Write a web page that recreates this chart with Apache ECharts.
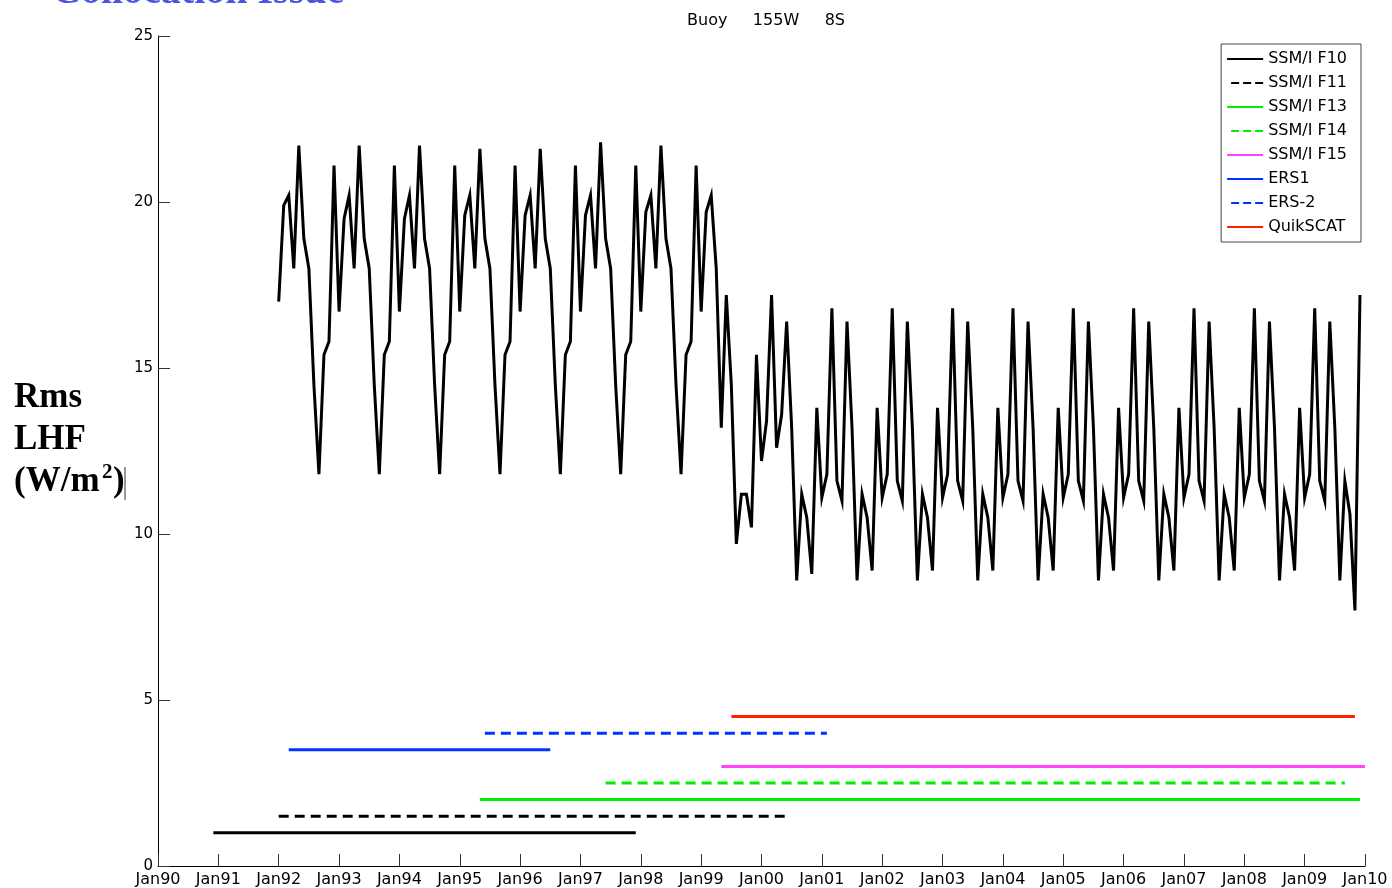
<!DOCTYPE html>
<html>
<head>
<meta charset="utf-8">
<script src="https://cdn.jsdelivr.net/npm/echarts@6/dist/echarts.min.js"></script>
<style>
  html, body { margin: 0; padding: 0; background: #ffffff; }
  #chart { width: 1392px; height: 888px; }
</style>
</head>
<body>
<div id="chart"></div>
<script>
// Monthly RMS latent heat flux difference at the buoy, W/m^2, starting Jan 1992
const rmsStartMonth = '1992-01';
const rmsLhf1992to1999 = [
  17.0, 19.9, 20.2, 18.0, 21.7, 18.9, 18.0, 14.5, 11.8, 15.4, 15.8, 21.1,
  16.7, 19.5, 20.2, 18.0, 21.7, 18.9, 18.0, 14.5, 11.8, 15.4, 15.8, 21.1,
  16.7, 19.5, 20.2, 18.0, 21.7, 18.9, 18.0, 14.5, 11.8, 15.4, 15.8, 21.1,
  16.7, 19.6, 20.2, 18.0, 21.6, 18.9, 18.0, 14.5, 11.8, 15.4, 15.8, 21.1,
  16.7, 19.6, 20.2, 18.0, 21.6, 18.9, 18.0, 14.5, 11.8, 15.4, 15.8, 21.1,
  16.7, 19.6, 20.2, 18.0, 21.8, 18.9, 18.0, 14.5, 11.8, 15.4, 15.8, 21.1,
  16.7, 19.7, 20.2, 18.0, 21.7, 18.9, 18.0, 14.5, 11.8, 15.4, 15.8, 21.1,
  16.7, 19.7, 20.2, 18.0, 13.2, 17.2, 14.5, 9.7, 11.2, 11.2, 10.2, 15.4
];
const rmsLhf2000to2009 = [
  12.2, 13.4, 17.2, 12.6, 13.6, 16.4, 13.2, 8.6, 11.2, 10.5, 8.8, 13.8,
  11.1, 11.8, 16.8, 11.6, 11.0, 16.4, 13.2, 8.6, 11.2, 10.5, 8.9, 13.8,
  11.1, 11.8, 16.8, 11.6, 11.0, 16.4, 13.2, 8.6, 11.2, 10.5, 8.9, 13.8,
  11.1, 11.8, 16.8, 11.6, 11.0, 16.4, 13.2, 8.6, 11.2, 10.5, 8.9, 13.8,
  11.1, 11.8, 16.8, 11.6, 11.0, 16.4, 13.2, 8.6, 11.2, 10.5, 8.9, 13.8,
  11.1, 11.8, 16.8, 11.6, 11.0, 16.4, 13.2, 8.6, 11.2, 10.5, 8.9, 13.8,
  11.1, 11.8, 16.8, 11.6, 11.0, 16.4, 13.2, 8.6, 11.2, 10.5, 8.9, 13.8,
  11.1, 11.8, 16.8, 11.6, 11.0, 16.4, 13.2, 8.6, 11.2, 10.5, 8.9, 13.8,
  11.1, 11.8, 16.8, 11.6, 11.0, 16.4, 13.2, 8.6, 11.2, 10.5, 8.9, 13.8,
  11.1, 11.8, 16.8, 11.6, 11.0, 16.4, 13.2, 8.6, 11.6, 10.6, 7.7, 17.2
];

// Satellite missions: name, plotted level and operating period
const sensorNames  = ['SSM/I F10', 'SSM/I F11', 'SSM/I F13', 'SSM/I F14', 'SSM/I F15', 'ERS1', 'ERS-2', 'QuikSCAT'];
const sensorLevels = [1.0, 1.5, 2.0, 2.5, 3.0, 3.5, 4.0, 4.5];
const sensorStart  = ['1990-12', '1992-01', '1995-05', '1997-06', '1999-05', '1992-03', '1995-06', '1999-07'];
const sensorEnd    = ['1997-12', '2000-06', '2009-12', '2009-09', '2010-01', '1996-07', '2001-02', '2009-11'];

// Axis range: one tick per January
const yearTicks = [1990, 2010];
const yTicks = [0, 25, 5];

// Line appearance for each mission
const sensorColors = ['#000000', '#000000', '#00ee00', '#00ee00', '#ff44ff', '#0033ff', '#0033ff', '#ff2200'];
const sensorDashed = [false, true, false, true, false, false, true, false];

// Legend samples: a plain bar, or three short dashes
const solidIcon  = 'path://M0,0H36V2H0Z';
const dashedIcon = 'path://M0,0L0,2Z M4,0H12V2H4Z M16,0H24V2H16Z M28,0H36V2H28Z';

function toYear(ym) {
  const parts = ym.split('-').map(Number);
  return parts[0] + (parts[1] - 1) / 12;
}

const rmsValues = rmsLhf1992to1999.concat(rmsLhf2000to2009);
const t0 = toYear(rmsStartMonth);
const rmsData = rmsValues.map((v, i) => [t0 + i / 12, v]);

const sensorSeries = sensorNames.map((name, i) => ({
  name: name,
  type: 'line',
  symbol: 'none',
  silent: true,
  z: 3,
  lineStyle: {
    color: sensorColors[i],
    width: 3,
    type: sensorDashed[i] ? [10, 6] : 'solid',
    cap: 'butt'
  },
  itemStyle: { color: sensorColors[i] },
  data: [[toYear(sensorStart[i]), sensorLevels[i]], [toYear(sensorEnd[i]), sensorLevels[i]]]
}));

const legendItems = sensorNames.map((name, i) => ({
  name: name,
  icon: sensorDashed[i] ? dashedIcon : solidIcon,
  itemStyle: { color: sensorColors[i], borderWidth: 0 }
}));

const axisFont = 'DejaVu Sans';
const chart = echarts.init(document.getElementById('chart'), null, { renderer: 'canvas' });

chart.setOption({
  animation: false,
  backgroundColor: '#ffffff',
  title: {
    text: 'Buoy     155W     8S',
    left: 761,
    top: 8,
    textAlign: 'center',
    textStyle: { fontFamily: axisFont, fontSize: 16, fontWeight: 'normal', color: '#000' }
  },
  grid: { left: 158, right: 27, top: 36, bottom: 22, containLabel: false },
  legend: {
    orient: 'vertical',
    right: 31,
    top: 44,
    data: legendItems,
    itemWidth: 36,
    itemHeight: 2,
    itemGap: 8,
    padding: [7, 14, 7, 6],
    borderColor: '#444',
    borderWidth: 1,
    backgroundColor: '#fff',
    selectedMode: false,
    textStyle: { fontFamily: axisFont, fontSize: 16, color: '#000', lineHeight: 16 }
  },
  xAxis: {
    type: 'value',
    min: yearTicks[0],
    max: yearTicks[1],
    interval: 1,
    axisLine: { onZero: false, lineStyle: { color: '#000', width: 1 } },
    axisTick: { inside: true, length: 12, lineStyle: { color: '#333' } },
    splitLine: { show: false },
    axisLabel: {
      margin: 6,
      fontFamily: axisFont,
      fontSize: 16,
      color: '#000',
      formatter: v => 'Jan' + String(Math.round(v)).slice(2)
    }
  },
  yAxis: {
    type: 'value',
    min: yTicks[0],
    max: yTicks[1],
    interval: yTicks[2],
    axisLine: { show: true, lineStyle: { color: '#000', width: 1 } },
    axisTick: { show: true, inside: true, length: 12, lineStyle: { color: '#333' } },
    splitLine: { show: false },
    axisLabel: { margin: 5, fontFamily: axisFont, fontSize: 15, color: '#000' }
  },
  graphic: [
    {
      type: 'text', left: 52, top: -27,
      style: { text: 'Collocation Issue', font: 'bold 40px "Liberation Serif"', fill: '#4b53e0' }
    },
    {
      type: 'text', left: 14, top: 380,
      style: { text: 'Rms', font: 'bold 35px "Liberation Serif"', fill: '#000' }
    },
    {
      type: 'text', left: 14, top: 422,
      style: { text: 'LHF', font: 'bold 35px "Liberation Serif"', fill: '#000' }
    },
    {
      type: 'text', left: 14, top: 464,
      style: { text: '(W/m', font: 'bold 35px "Liberation Serif"', fill: '#000' }
    },
    {
      type: 'text', left: 102, top: 462,
      style: { text: '2', font: 'bold 21px "Liberation Serif"', fill: '#000' }
    },
    {
      type: 'text', left: 113, top: 464,
      style: { text: ')', font: 'bold 35px "Liberation Serif"', fill: '#000' }
    },
    {
      type: 'line', shape: { x1: 125, y1: 467, x2: 125, y2: 500 },
      style: { stroke: '#333', lineWidth: 1 }
    }
  ],
  series: [
    {
      name: 'RMS LHF',
      type: 'line',
      symbol: 'none',
      silent: true,
      z: 4,
      lineStyle: { color: '#000', width: 3, join: 'miter' },
      data: rmsData
    }
  ].concat(sensorSeries)
});
</script>
</body>
</html>
